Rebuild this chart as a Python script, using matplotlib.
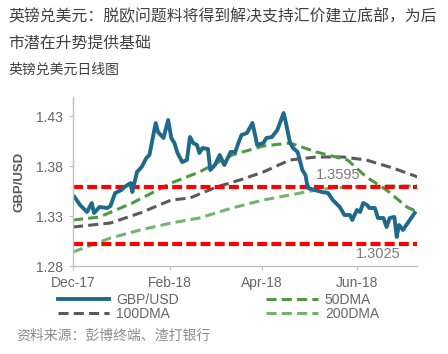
import numpy as np
import pandas as pd
import matplotlib
matplotlib.use('Agg')
import matplotlib.pyplot as plt
import matplotlib.dates as mdates

CJK = ['Noto Sans CJK SC', 'DejaVu Sans']
LATIN = ['Liberation Sans', 'DejaVu Sans']

START = pd.Timestamp('2017-12-01')

# GBP/USD spot (day offset from 1 Dec 2017, rate)
spot_days = [1, 4.5, 9, 12, 13.5, 17, 22, 24, 27, 31, 33, 37, 38, 41, 44, 47, 49,
             53, 54.5, 58, 61, 63, 65, 67, 70, 73, 75, 77, 79.5, 81, 83, 86.5,
             88, 91, 94, 97, 101, 104, 106, 108, 111.5, 115, 117, 118, 122, 124,
             127.5, 131, 135, 136.5, 139, 141, 144, 147, 149, 150.5, 155, 159.5,
             163.5, 166.5, 171, 174, 177.5, 179, 182, 184, 186, 188.5, 190,
             193.5, 195.5, 199, 201, 203, 206, 207.5, 209, 211.5, 215, 219]
spot = [1.349, 1.341, 1.334, 1.343, 1.333, 1.339, 1.338, 1.340, 1.353, 1.356,
        1.359, 1.363, 1.354, 1.374, 1.379, 1.388, 1.391, 1.423, 1.414, 1.408,
        1.426, 1.408, 1.403, 1.393, 1.384, 1.386, 1.409, 1.403, 1.401, 1.393,
        1.398, 1.397, 1.376, 1.381, 1.391, 1.381, 1.394, 1.394, 1.403, 1.411,
        1.413, 1.423, 1.409, 1.401, 1.403, 1.408, 1.409, 1.416, 1.433, 1.423,
        1.404, 1.398, 1.394, 1.376, 1.371, 1.358, 1.356, 1.354, 1.353, 1.346,
        1.339, 1.331, 1.331, 1.326, 1.336, 1.334, 1.343, 1.341, 1.338, 1.338,
        1.328, 1.328, 1.319, 1.328, 1.329, 1.309, 1.321, 1.316, 1.324, 1.333]

# moving averages
dma50_days = [0, 17, 38, 63, 81, 102, 122, 139, 156, 176, 188, 201, 214, 221]
dma50 = [1.326, 1.329, 1.343, 1.363, 1.374, 1.391, 1.400, 1.403, 1.394, 1.386,
         1.369, 1.356, 1.339, 1.334]

dma100_days = [0, 24, 43, 63, 75, 92, 107, 122, 139, 156, 173, 188, 205, 221]
dma100 = [1.319, 1.323, 1.333, 1.346, 1.348, 1.359, 1.366, 1.374, 1.386, 1.389,
          1.389, 1.386, 1.378, 1.369]

dma200_days = [0, 24, 43, 63, 81, 102, 122, 139, 156, 166, 180, 200, 221]
dma200 = [1.294, 1.308, 1.316, 1.323, 1.328, 1.338, 1.346, 1.351, 1.356, 1.358,
          1.359, 1.360, 1.360]

levels = [1.3595, 1.3025]


def to_dates(days):
    return [START + pd.Timedelta(days=d) for d in days]


fig = plt.figure(figsize=(4.48, 3.54), dpi=100)
ax = fig.add_axes([73 / 448, 1 - 266 / 354, (417 - 73) / 448, (266 - 97) / 354])

ma_lw = 2.2
ax.plot(to_dates(dma200_days), dma200, color='#72b36e', lw=ma_lw,
        dashes=(3.3, 1.7), label='200DMA')
ax.plot(to_dates(dma100_days), dma100, color='#5a5a5a', lw=ma_lw,
        dashes=(3.3, 1.7), label='100DMA')
ax.plot(to_dates(dma50_days), dma50, color='#4d9a40', lw=ma_lw,
        dashes=(3.3, 1.7), label='50DMA')
for lv in levels:
    ax.axhline(lv, color='#ff0000', lw=3, dashes=(2.4, 1.0))
ax.plot(to_dates(spot_days), spot, color='#1f6a8a', lw=2.8,
        solid_joinstyle='round', label='GBP/USD')

ax.text(START + pd.Timedelta(days=156), levels[0] + 0.005, '1.3595',
        fontsize=10.5, color='#7a7a7a', family=LATIN, va='bottom')
ax.text(START + pd.Timedelta(days=181), levels[1] - 0.004, '1.3025',
        fontsize=10.5, color='#7a7a7a', family=LATIN, va='top')

ax.set_xlim(START, START + pd.Timedelta(days=220.5))
ax.set_ylim(1.28, 1.449)
ax.set_yticks([1.28, 1.33, 1.38, 1.43])
ax.yaxis.set_major_formatter(matplotlib.ticker.FormatStrFormatter('%.2f'))
ax.xaxis.set_major_locator(mdates.MonthLocator(bymonth=[12, 2, 4, 6]))
ax.xaxis.set_major_formatter(mdates.DateFormatter('%b-%y'))

for s in ['top', 'right']:
    ax.spines[s].set_visible(False)
for s in ['left', 'bottom']:
    ax.spines[s].set_color('#bfbfbf')
    ax.spines[s].set_linewidth(1)
ax.tick_params(length=3, color='#bfbfbf', labelcolor='#666666', labelsize=10,
               pad=4)
for lab in ax.get_xticklabels() + ax.get_yticklabels():
    lab.set_family(LATIN)
ax.set_ylabel('GBP/USD', fontsize=9.5, fontweight='bold', color='#595959',
              family=LATIN, labelpad=8)

handles, labels = ax.get_legend_handles_labels()
order = ['GBP/USD', '100DMA', '50DMA', '200DMA']
h = [handles[labels.index(k)] for k in order]
fig.legend(h, order, loc='upper left', bbox_to_anchor=(58 / 448, 1 - 293 / 354),
           ncol=2, frameon=False, borderpad=0, borderaxespad=0,
           handlelength=3.7, handletextpad=0.5, columnspacing=6.3,
           labelspacing=0.0, prop={'family': LATIN, 'size': 10},
           labelcolor='#666666')

fig.text(8 / 448, 1 - 17 / 354,
         '英镑兑美元：脱欧问题料将得到解决支持汇价建立底部，为后',
         fontsize=11.4, color='#404040', family=CJK, fontweight='light',
         va='center')
fig.text(8 / 448, 1 - 43 / 354, '市潜在升势提供基础',
         fontsize=11.4, color='#404040', family=CJK, fontweight='light',
         va='center')
fig.text(8 / 448, 1 - 70 / 354, '英镑兑美元日线图',
         fontsize=10, color='#404040', family=CJK, fontweight='light',
         va='center')
fig.text(16 / 448, 1 - 336 / 354, '资料来源：彭博终端、渣打银行',
         fontsize=10, color='#8c8c8c', family=CJK, fontweight='light',
         va='center')

fig.savefig('out.png', dpi=100)
